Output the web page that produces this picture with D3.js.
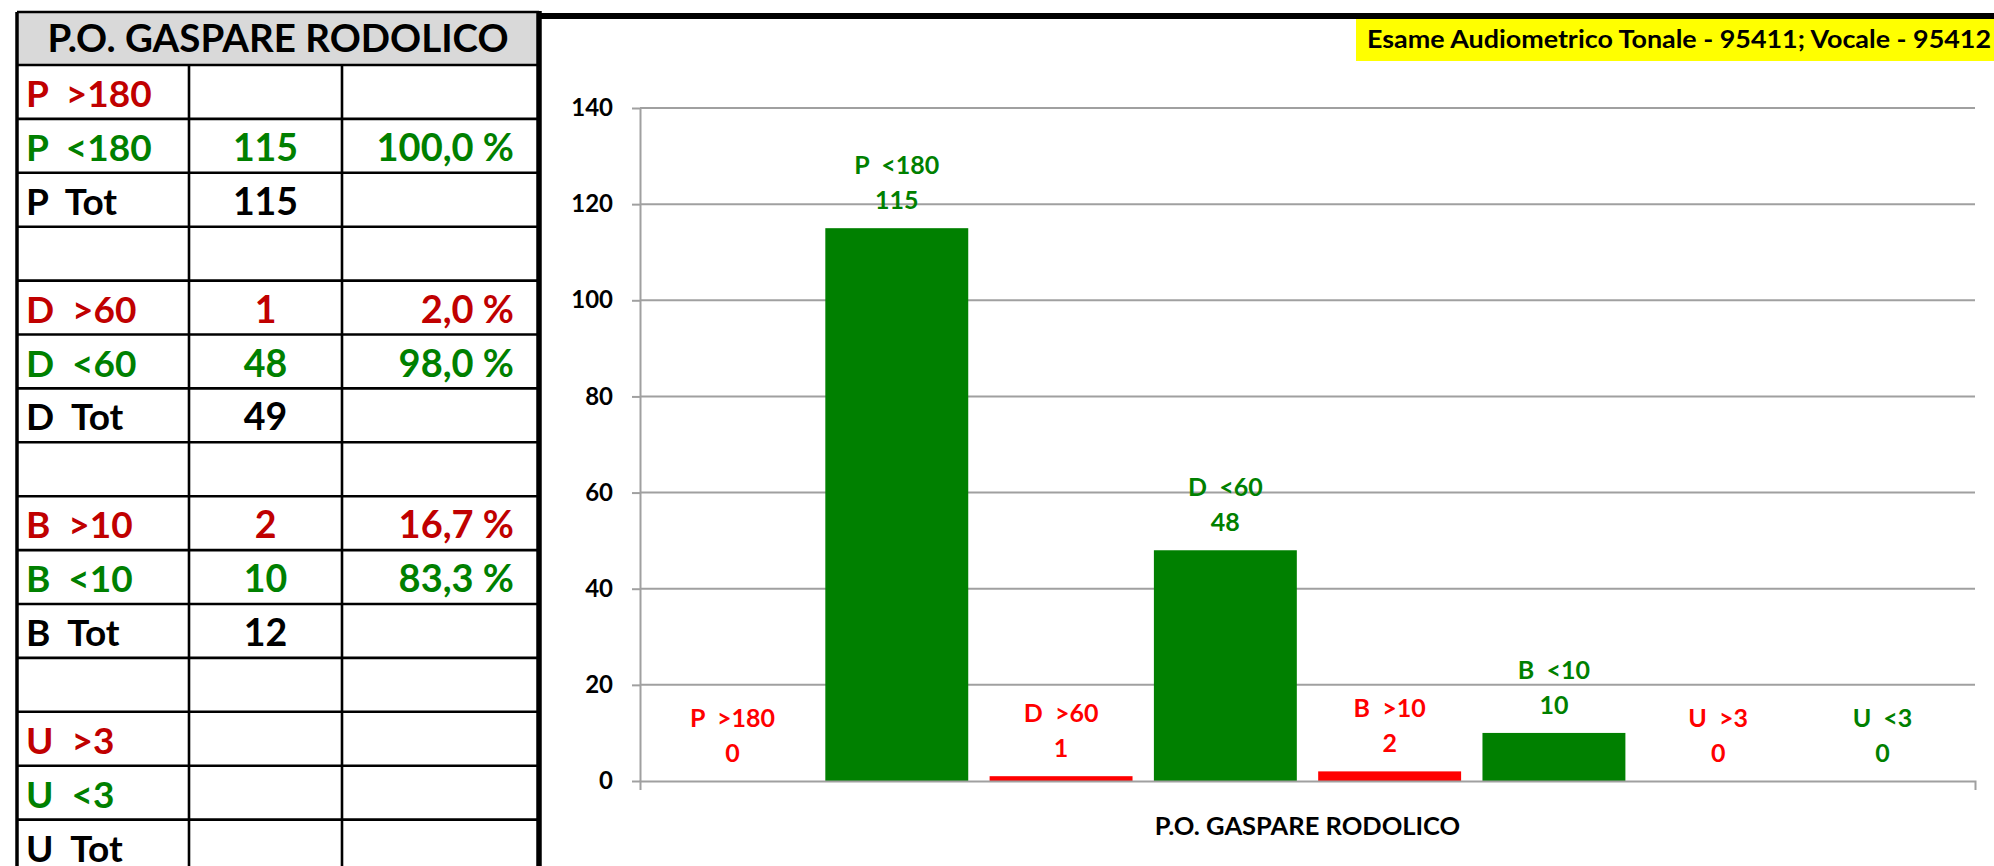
<!DOCTYPE html>
<html>
<head>
<meta charset="utf-8">
<script src="https://cdn.jsdelivr.net/npm/d3@7"></script>
<style>
  html, body { margin: 0; padding: 0; background: #fff; }
  svg { display: block; }
  text { font-family: Lato, "Open Sans", sans-serif; font-weight: 700; white-space: pre; }
</style>
</head>
<body>
<svg id="chart" width="1994" height="866"></svg>
<script>
// ---------- data ----------
const tableTitle = "P.O. GASPARE RODOLICO";
const rowLabels = ["P  >180","P  <180","P  Tot","","D  >60","D  <60","D  Tot","","B  >10","B  <10","B  Tot","","U  >3","U  <3","U  Tot"];
const rowKinds  = ["hi","lo","tot","blank","hi","lo","tot","blank","hi","lo","tot","blank","hi","lo","tot"];
const rowCounts = ["","115","115","","1","48","49","","2","10","12","","","",""];
const rowPercents = ["","100,0 %","","","2,0 %","98,0 %","","","16,7 %","83,3 %","","","","",""];

const categories = ["P.O. GASPARE RODOLICO"];
const seriesNames = ["P  >180","P  <180","D  >60","D  <60","B  >10","B  <10","U  >3","U  <3"];
const seriesKinds = ["hi","lo","hi","lo","hi","lo","hi","lo"];
const seriesValues = [0,115,1,48,2,10,0,0];
const yTickValues = [0,20,40,60,80,100,120,140];
const chartTitle = "Esame Audiometrico Tonale - 95411; Vocale - 95412";

// ---------- styles ----------
const tableColors = {hi: "#C00000", lo: "#008000", tot: "#000000", blank: "#000000"};
const barColors = {hi: "#FF0000", lo: "#008000"};
const gridColor = "#A0A0A0";

const svg = d3.select("#chart");

// ---------- table ----------
const T = {x0: 17, x1: 189, x2: 342, x3: 539, top: 12, headBottom: 65, rowH: 53.9};
const tg = svg.append("g");
tg.append("rect").attr("x", T.x0).attr("y", T.top).attr("width", T.x3 - T.x0).attr("height", T.headBottom - T.top)
  .attr("fill", "#D9D9D9");
tg.append("text").attr("x", (T.x0 + T.x3) / 2).attr("y", T.top + 40).attr("text-anchor", "middle")
  .attr("font-size", 38.5).attr("fill", "#000").text(tableTitle);

const rowY = i => T.headBottom + i * T.rowH;
const rows = tg.selectAll("g.row").data(rowLabels.map((l, i) => ({l, k: rowKinds[i], c: rowCounts[i], p: rowPercents[i], i})))
  .join("g").attr("class", "row");
rows.append("text").attr("x", T.x0 + 9).attr("y", d => rowY(d.i) + 42).attr("font-size", 37)
  .attr("fill", d => tableColors[d.k]).text(d => d.l);
rows.append("text").attr("x", (T.x1 + T.x2) / 2).attr("y", d => rowY(d.i) + 42).attr("font-size", 37.5)
  .attr("text-anchor", "middle").attr("fill", d => tableColors[d.k]).text(d => d.c);
rows.append("text").attr("x", T.x3 - 25).attr("y", d => rowY(d.i) + 42).attr("font-size", 38)
  .attr("text-anchor", "end").attr("fill", d => tableColors[d.k]).text(d => d.p);

// grid lines of table
const hLines = d3.range(rowLabels.length + 1).map(rowY);
tg.selectAll("line.h").data(hLines).join("line").attr("class", "h")
  .attr("x1", T.x0).attr("x2", T.x3).attr("y1", d => d).attr("y2", d => d)
  .attr("stroke", "#000").attr("stroke-width", 2.6);
[T.x1, T.x2].forEach(x => tg.append("line").attr("x1", x).attr("x2", x).attr("y1", T.headBottom).attr("y2", 866)
  .attr("stroke", "#000").attr("stroke-width", 2.6));
tg.append("line").attr("x1", T.x0).attr("x2", T.x3).attr("y1", T.top).attr("y2", T.top).attr("stroke", "#000").attr("stroke-width", 2.6);
tg.append("line").attr("x1", T.x0).attr("x2", T.x0).attr("y1", T.top).attr("y2", 866).attr("stroke", "#000").attr("stroke-width", 3.5);
tg.append("line").attr("x1", T.x3).attr("x2", T.x3).attr("y1", T.top - 1).attr("y2", 866).attr("stroke", "#000").attr("stroke-width", 5.5);

// ---------- chart frame ----------
svg.append("line").attr("x1", T.x3 - 2).attr("x2", 1994).attr("y1", 16).attr("y2", 16).attr("stroke", "#000").attr("stroke-width", 6);
svg.append("rect").attr("x", 1356).attr("y", 19).attr("width", 1994 - 1356).attr("height", 42).attr("fill", "#FFFF00");
svg.append("text").attr("x", 1367).attr("y", 48).attr("font-size", 24.5).attr("fill", "#000")
  .attr("textLength", 624).attr("lengthAdjust", "spacingAndGlyphs").text(chartTitle);

// ---------- plot ----------
const P = {left: 640, right: 1975, top: 108, bottom: 781};
const y = d3.scaleLinear().domain([0, 140]).range([P.bottom, P.top]);
const x0 = d3.scaleBand().domain(categories).range([P.left, P.right]).padding(0);
const x1 = d3.scaleBand().domain(seriesNames).range([0, x0.bandwidth()]).paddingInner(0.13).paddingOuter(0.128);

const pg = svg.append("g");
// gridlines
pg.selectAll("line.grid").data(yTickValues.filter(v => v > 0)).join("line").attr("class", "grid")
  .attr("x1", P.left).attr("x2", P.right).attr("y1", d => y(d)).attr("y2", d => y(d))
  .attr("stroke", gridColor).attr("stroke-width", 2);

// y axis
const yAxis = pg.append("g").attr("transform", `translate(${P.left},0)`)
  .call(d3.axisLeft(y).tickValues(yTickValues).tickSizeInner(8).tickSizeOuter(0).tickPadding(19));
yAxis.select(".domain").attr("stroke", gridColor).attr("stroke-width", 2);
yAxis.selectAll(".tick line").attr("stroke", gridColor).attr("stroke-width", 2);
yAxis.selectAll(".tick text").attr("font-family", "Lato, sans-serif").attr("font-weight", 700)
  .attr("font-size", 24).attr("fill", "#000");

// bars
const data = seriesNames.map((s, i) => ({s, k: seriesKinds[i], v: seriesValues[i], c: categories[0]}));
const bars = pg.append("g");
bars.selectAll("rect").data(data).join("rect")
  .attr("x", d => x0(d.c) + x1(d.s)).attr("width", x1.bandwidth())
  .attr("y", d => y(d.v)).attr("height", d => y(0) - y(d.v))
  .attr("fill", d => barColors[d.k]);

// x axis
const xAxis = pg.append("g").attr("transform", `translate(0,${P.bottom})`)
  .call(d3.axisBottom(x0).tickSizeInner(0).tickSizeOuter(9).tickPadding(36));
xAxis.select(".domain").attr("stroke", gridColor).attr("stroke-width", 2).attr("fill", "none");
xAxis.selectAll(".tick text").attr("font-family", "Lato, sans-serif").attr("font-weight", 700)
  .attr("font-size", 25.5).attr("fill", "#000");

// data labels
const lab = pg.append("g").selectAll("g").data(data).join("g");
lab.append("text").attr("x", d => x0(d.c) + x1(d.s) + x1.bandwidth() / 2).attr("y", d => y(d.v) - 54)
  .attr("text-anchor", "middle").attr("font-size", 25).attr("fill", d => barColors[d.k]).text(d => d.s);
lab.append("text").attr("x", d => x0(d.c) + x1(d.s) + x1.bandwidth() / 2).attr("y", d => y(d.v) - 19)
  .attr("text-anchor", "middle").attr("font-size", 25).attr("fill", d => barColors[d.k]).text(d => d.v);
</script>
</body>
</html>
